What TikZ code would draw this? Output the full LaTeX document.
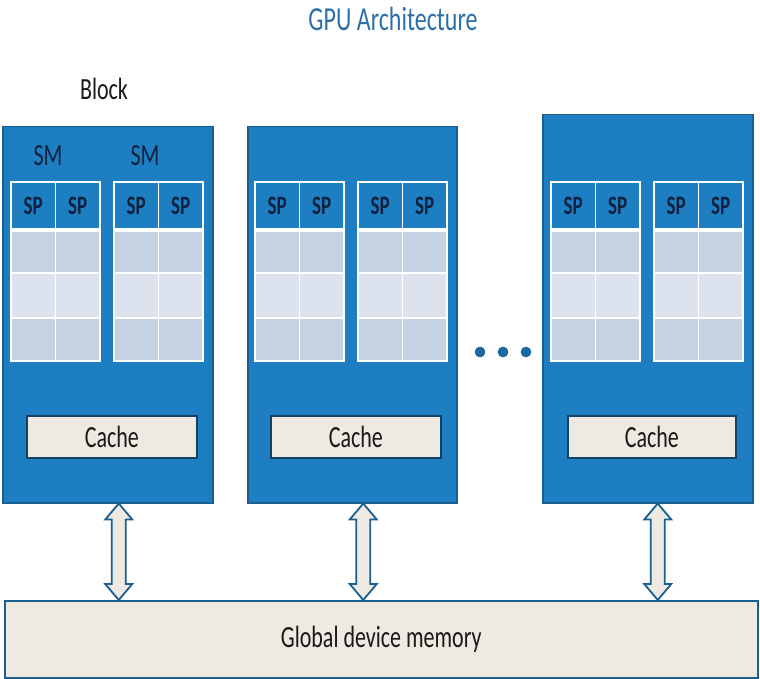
\documentclass[tikz,border=0pt]{standalone}
\usepackage{graphicx}
\usepackage{fontspec}
\setmainfont{Carlito}
\usetikzlibrary{calc}
\definecolor{blk}{HTML}{1E7EC2}
\definecolor{blkedge}{HTML}{1A5F92}
\definecolor{rowA}{HTML}{C4D2E3}
\definecolor{rowB}{HTML}{DDE3EE}
\definecolor{beige}{HTML}{EEEAE1}
\definecolor{navy}{HTML}{0E2240}
\definecolor{ttl}{HTML}{2C6FA8}
\definecolor{dotc}{HTML}{1B6AA5}
\newcommand\tall[1]{\scalebox{1}[1.4]{#1}}
\tikzset{
  block/.style={draw=blkedge, line width=1.5pt, fill=blk, inner sep=0pt, anchor=north west},
  cachebox/.style={draw=blkedge!70!black, line width=1.8pt, fill=beige, inner sep=0pt, anchor=north west,
    minimum height=42pt, font=\fontsize{22}{24}\selectfont, text=black!90},
  membox/.style={draw=blkedge, line width=1.5pt, fill=beige, inner sep=0pt, anchor=north west,
    font=\fontsize{22}{24}\selectfont, text=black!90},
  sp/.style={font=\bfseries\fontsize{19}{21}\selectfont, text=navy, inner sep=0pt},
  smlabel/.style={font=\fontsize{22}{24}\selectfont, text=navy, inner sep=0pt},
  dotnode/.style={circle, fill=dotc, draw=blkedge, line width=0.6pt, minimum size=10pt, inner sep=0pt},
  arr/.style={draw=blkedge, line width=1.8pt, fill=beige, line join=miter},
}
\newcommand\smgrid[2]{%
  \fill[blk] (#1,182) rectangle ++(89,46);
  \fill[rowA] (#1,232) rectangle ++(89,41);
  \fill[rowB] (#1,273) rectangle ++(89,45);
  \fill[rowA] (#1,318) rectangle ++(89,43);
  \fill[white] (#1,228) rectangle ++(89,4);
  \draw[white, line width=1.5pt] (#1,273) -- ++(89,0) (#1,318) -- ++(89,0) (#1+44.5,182) -- ++(0,179);
  \draw[white, line width=1.5pt] (#1,182) rectangle ++(89,179);
  \node[sp] (#2a) at (#1+22.25,206) {\tall{SP}};
  \node[sp] (#2b) at (#1+66.75,206) {\tall{SP}};
}
\newcommand\dblarrow[2]{%
  \path[arr] let \p1=(#1), \p2=(#2) in
    (\x1,\y1) -- (\x1+13.5pt,\y1-16pt) -- (\x1+7pt,\y1-16pt) -- (\x1+7pt,\y2+16pt)
    -- (\x1+13.5pt,\y2+16pt) -- (\x1,\y2) -- (\x1-13.5pt,\y2+16pt) -- (\x1-7pt,\y2+16pt)
    -- (\x1-7pt,\y1-16pt) -- (\x1-13.5pt,\y1-16pt) -- cycle;
}
\begin{document}
\begin{tikzpicture}[x=1pt, y=-1pt]
\useasboundingbox (0,0) rectangle (760,679);
% title
\node[font=\fontsize{24}{26}\selectfont, text=ttl, inner sep=0pt] (title) at (393,19) {\tall{GPU Architecture}};
\node[font=\fontsize{22}{24}\selectfont, text=black!90, inner sep=0pt] (blocklbl) at (104,89) {\tall{Block}};
% blocks
\node[block, minimum width=210pt, minimum height=376pt] (b1) at (2,126) {};
\node[block, minimum width=209pt, minimum height=376pt] (b2) at (247,126) {};
\node[block, minimum width=210pt, minimum height=388pt] (b3) at (542,114) {};
% SM labels
\node[smlabel] (sm1) at (48,156) {\tall{SM}};
\node[smlabel] (sm2) at (145,156) {\tall{SM}};
% grids
\smgrid{11}{g1}
\smgrid{114}{g2}
\smgrid{255}{g3}
\smgrid{358}{g4}
\smgrid{551}{g5}
\smgrid{654}{g6}
% caches
\node[cachebox, minimum width=170pt] (c1) at (26,415) {\tall{Cache}};
\node[cachebox, minimum width=170pt] (c2) at (270,415) {\tall{Cache}};
\node[cachebox, minimum width=168pt] (c3) at (567,415) {\tall{Cache}};
% dots
\node[dotnode] (d1) at (480,352) {};
\node[dotnode] (d2) at (503,352) {};
\node[dotnode] (d3) at (526,352) {};
% memory
\node[membox, minimum width=753pt, minimum height=77pt] (mem) at (4,600) {\tall{Global device memory}};
% arrows
\coordinate (a1t) at ($(b1.south)+(11,0)$);
\coordinate (a2t) at ($(b2.south)+(11,0)$);
\coordinate (a3t) at ($(b3.south)+(10,0)$);
\coordinate (a1b) at (a1t |- mem.north);
\coordinate (a2b) at (a2t |- mem.north);
\coordinate (a3b) at (a3t |- mem.north);
\dblarrow{a1t}{a1b}
\dblarrow{a2t}{a2b}
\dblarrow{a3t}{a3b}
\end{tikzpicture}
\end{document}
